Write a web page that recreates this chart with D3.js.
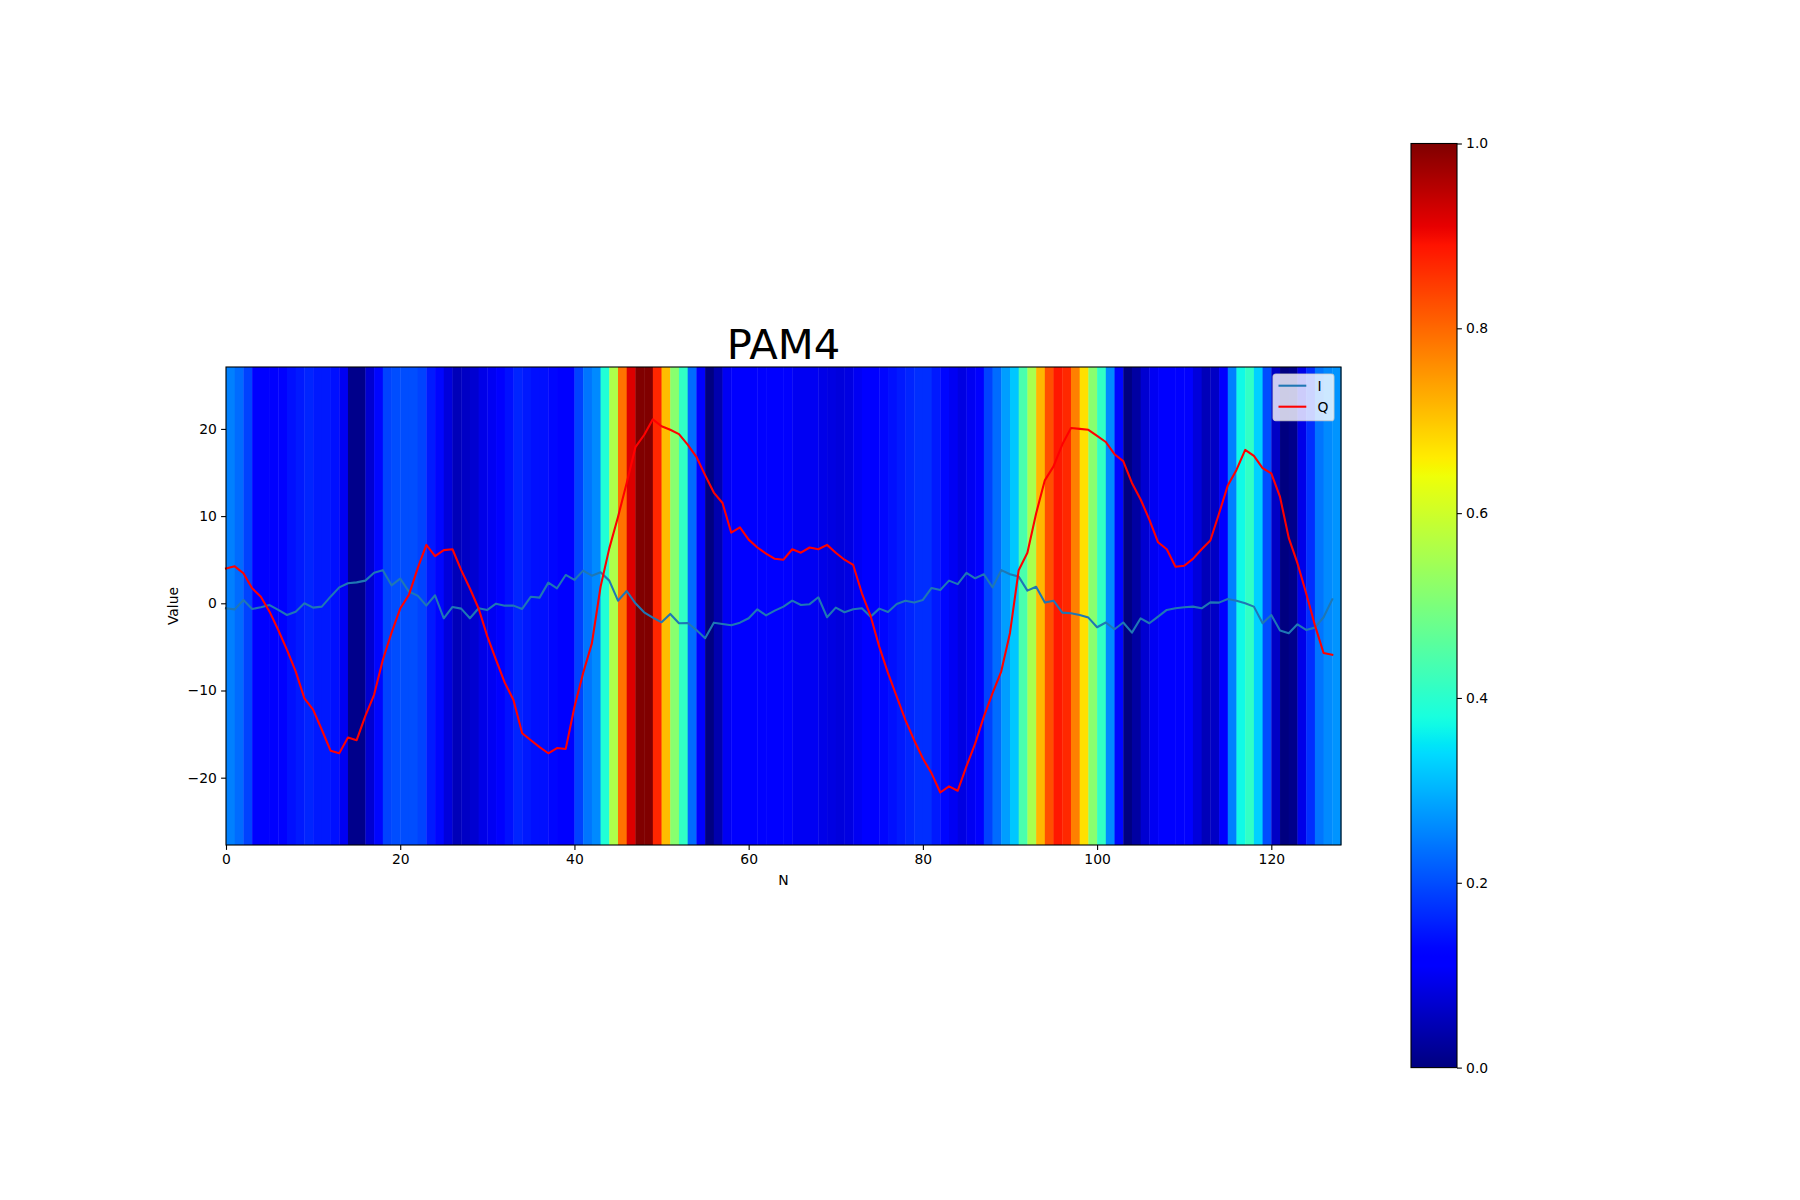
<!DOCTYPE html>
<html>
<head>
<meta charset="utf-8">
<script src="https://cdn.jsdelivr.net/npm/d3@7"></script>
<style>
  body { margin: 0; background: #fff; }
  text { font-family: "DejaVu Sans", sans-serif; fill: #000; }
</style>
</head>
<body>
<div id="chart"></div>
<script>
// heatmap column values (0..1, jet colormap), one per sample
var heat = [0.25,0.23,0.19,0.12,0.12,0.12,0.12,0.14,0.15,0.16,0.15,0.15,0.14,0.10,0.01,0.01,
  0.07,0.13,0.19,0.20,0.20,0.20,0.19,0.15,0.13,0.08,0.05,0.06,0.07,0.09,0.10,0.11,
  0.14,0.16,0.15,0.14,0.14,0.13,0.12,0.12,0.19,0.24,0.26,0.39,0.56,0.79,0.92,1.0,
  1.0,0.87,0.71,0.515,0.41,0.23,0.12,0.0,0.04,0.10,0.115,0.12,0.12,0.12,0.115,0.11,
  0.11,0.10,0.10,0.10,0.09,0.085,0.08,0.085,0.10,0.115,0.12,0.13,0.14,0.15,0.16,0.17,
  0.17,0.15,0.13,0.10,0.085,0.10,0.12,0.19,0.23,0.28,0.32,0.44,0.555,0.716,0.826,0.885,
  0.868,0.775,0.673,0.515,0.41,0.26,0.13,0.0,0.03,0.07,0.10,0.12,0.12,0.12,0.12,0.08,
  0.05,0.06,0.12,0.25,0.37,0.41,0.33,0.20,0.06,0.0,0.01,0.09,0.17,0.24,0.26,0.27];

// I channel
var iVals = [-0.57,-0.7,0.38,-0.65,-0.46,-0.2,-0.76,-1.34,-0.96,0,-0.5,-0.38,0.76,1.83,2.3,2.4,
  2.6,3.5,3.8,2.06,2.83,1.34,0.88,-0.27,0.92,-1.72,-0.42,-0.61,-1.72,-0.57,-0.76,-0.04,
  -0.27,-0.27,-0.65,0.76,0.65,2.37,1.72,3.25,2.68,3.75,3.17,3.55,2.6,0.3,1.41,0,
  -1.03,-1.64,-2.18,-1.22,-2.29,-2.26,-3.06,-4.0,-2.22,-2.37,-2.52,-2.22,-1.72,-0.69,-1.38,-0.84,
  -0.38,0.3,-0.2,-0.1,0.69,-1.6,-0.5,-1.03,-0.69,-0.57,-1.53,-0.61,-1.0,-0.08,0.3,0.08,
  0.38,1.76,1.53,2.6,2.2,3.5,2.87,3.33,1.83,3.8,3.33,3.06,1.45,1.9,0.08,0.3,
  -1.07,-1.15,-1.34,-1.64,-2.75,-2.2,-2.98,-2.2,-3.36,-1.72,-2.29,-1.53,-0.76,-0.57,-0.46,-0.38,
  -0.57,0.11,0.08,0.5,0.3,0,-0.38,-2.29,-1.34,-3.13,-3.44,-2.41,-3.06,-2.79,-1.6,0.46];

// Q channel
var qVals = [4.0,4.24,3.44,1.72,0.76,-0.96,-3.06,-5.35,-7.8,-10.9,-12.2,-14.5,-16.9,-17.2,-15.4,-15.7,
  -12.9,-10.5,-6.5,-3.4,-0.6,0.96,4.0,6.7,5.4,6.1,6.2,3.8,1.7,-0.6,-3.8,-6.5,
  -9.1,-11.1,-14.9,-15.7,-16.5,-17.2,-16.6,-16.7,-11.9,-8.0,-4.6,1.9,6.3,9.9,13.8,17.9,
  19.3,21.1,20.3,19.9,19.4,18.2,16.8,14.7,12.7,11.5,8.1,8.7,7.3,6.4,5.7,5.1,
  5.0,6.2,5.8,6.4,6.2,6.7,5.8,5.0,4.4,1.15,-1.45,-5.0,-8.0,-10.7,-13.4,-15.7,
  -17.8,-19.5,-21.7,-21.0,-21.5,-18.7,-16.1,-13.0,-10.3,-7.8,-3.4,3.8,5.8,10.3,14.1,15.7,
  18.2,20.1,20.0,19.9,19.2,18.5,17.1,16.3,13.8,11.9,9.6,7.0,6.2,4.2,4.3,5.1,
  6.2,7.2,10.3,13.5,15.3,17.6,16.9,15.5,14.9,12.2,7.5,4.6,1.15,-2.5,-5.7,-5.9];

var xTicks = [0, 20, 40, 60, 80, 100, 120];
var yTicks = [-20, -10, 0, 10, 20];
var cbTicks = [0, 0.2, 0.4, 0.6, 0.8, 1.0];
var series = [{name: "I", color: "#1f77b4", values: iVals},
              {name: "Q", color: "#ff0000", values: qVals}];

(function(){

  var W = 1800, H = 1200;
  var plot = {left: 226, right: 1341, top: 367, bottom: 845};
  var cb = {left: 1411, right: 1457, top: 143.5, bottom: 1067.6};

  var svg = d3.select("#chart").append("svg")
    .attr("width", W).attr("height", H);

  // jet colormap, piecewise linear per channel (matplotlib segment data)
  var red = d3.scaleLinear().domain([0, 0.35, 0.66, 0.89, 1]).range([0, 0, 1, 1, 0.5]).clamp(true);
  var green = d3.scaleLinear().domain([0, 0.125, 0.375, 0.64, 0.91, 1]).range([0, 0, 1, 1, 0, 0]).clamp(true);
  var blue = d3.scaleLinear().domain([0, 0.11, 0.34, 0.65, 1]).range([0.5, 1, 1, 0, 0]).clamp(true);
  function jet(v) {
    return d3.rgb(red(v) * 255, green(v) * 255, blue(v) * 255).formatHex();
  }

  var x = d3.scaleLinear().domain([0, 128]).range([plot.left, plot.right]);
  var y = d3.scaleLinear().domain([-27.72, 27.1]).range([plot.bottom, plot.top]);

  // heatmap columns behind the lines
  svg.append("g").selectAll("rect")
    .data(heat)
    .enter().append("rect")
    .attr("x", function(d, i) { return x(i); })
    .attr("width", function(d, i) { return x(i + 1) - x(i) + 0.4; })
    .attr("y", plot.top)
    .attr("height", plot.bottom - plot.top)
    .attr("fill", function(d) { return jet(d); });

  var line = d3.line()
    .x(function(d, i) { return x(i); })
    .y(function(d) { return y(d); });

  svg.append("g").selectAll("path")
    .data(series)
    .enter().append("path")
    .attr("d", function(d) { return line(d.values); })
    .attr("fill", "none")
    .attr("stroke", function(d) { return d.color; })
    .attr("stroke-width", 2.08)
    .attr("stroke-linejoin", "round")
    .attr("stroke-linecap", "square");

  // axes
  var xAxis = d3.axisBottom(x).tickValues(xTicks).tickSize(4.9).tickPadding(4.2)
    .tickFormat(d3.format("d"));
  var yAxis = d3.axisLeft(y).tickValues(yTicks).tickSize(4.9).tickPadding(4.2)
    .tickFormat(function(d) { return d < 0 ? "\u2212" + Math.abs(d) : d; });

  var gx = svg.append("g").attr("transform", "translate(0," + plot.bottom + ")").call(xAxis);
  var gy = svg.append("g").attr("transform", "translate(" + plot.left + ",0)").call(yAxis);
  [gx, gy].forEach(function(g) {
    g.select(".domain").remove();
    g.selectAll("line").attr("stroke", "#000").attr("stroke-width", 1.1);
    g.selectAll("text").attr("font-size", 13.9).attr("font-family", "DejaVu Sans").attr("fill", "#000");
  });

  // frame
  svg.append("rect")
    .attr("x", plot.left).attr("y", plot.top)
    .attr("width", plot.right - plot.left).attr("height", plot.bottom - plot.top)
    .attr("fill", "none").attr("stroke", "#000").attr("stroke-width", 1.1);

  // labels
  svg.append("text")
    .attr("x", (plot.left + plot.right) / 2).attr("y", 358.7)
    .attr("text-anchor", "middle").attr("font-size", 41.7)
    .text("PAM4");
  svg.append("text")
    .attr("x", (plot.left + plot.right) / 2).attr("y", 884.5)
    .attr("text-anchor", "middle").attr("font-size", 13.9)
    .text("N");
  svg.append("text")
    .attr("transform", "translate(178," + (plot.top + plot.bottom) / 2 + ") rotate(-90)")
    .attr("text-anchor", "middle").attr("font-size", 13.9)
    .text("Value");

  // legend
  var lg = svg.append("g").attr("transform", "translate(1273,374)");
  lg.append("rect")
    .attr("width", 61).attr("height", 46.7).attr("rx", 2.8)
    .attr("fill", "#fff").attr("fill-opacity", 0.8)
    .attr("stroke", "#ccc").attr("stroke-opacity", 0.8).attr("stroke-width", 1.1);
  series.forEach(function(s, k) {
    var cy = 11.7 + k * 21;
    lg.append("line")
      .attr("x1", 5.5).attr("x2", 33.3).attr("y1", cy).attr("y2", cy)
      .attr("stroke", s.color).attr("stroke-width", 2.08);
    lg.append("text")
      .attr("x", 44.5).attr("y", cy + 5)
      .attr("font-size", 13.9)
      .text(s.name);
  });

  // colorbar
  var grad = svg.append("defs").append("linearGradient")
    .attr("id", "jetgrad").attr("x1", 0).attr("y1", 1).attr("x2", 0).attr("y2", 0);
  grad.selectAll("stop")
    .data(d3.range(0, 1.0001, 0.01))
    .enter().append("stop")
    .attr("offset", function(d) { return d; })
    .attr("stop-color", function(d) { return jet(d); });

  svg.append("rect")
    .attr("x", cb.left).attr("y", cb.top)
    .attr("width", cb.right - cb.left).attr("height", cb.bottom - cb.top)
    .attr("fill", "url(#jetgrad)")
    .attr("stroke", "#000").attr("stroke-width", 1.1);

  var c = d3.scaleLinear().domain([0, 1]).range([cb.bottom, cb.top]);
  var gc = svg.append("g").attr("transform", "translate(" + cb.right + ",0)")
    .call(d3.axisRight(c).tickValues(cbTicks).tickSize(4.9).tickPadding(4.2).tickFormat(d3.format(".1f")));
  gc.select(".domain").remove();
  gc.selectAll("line").attr("stroke", "#000").attr("stroke-width", 1.1);
  gc.selectAll("text").attr("font-size", 13.9).attr("font-family", "DejaVu Sans").attr("fill", "#000");

})()
</script>
</body>
</html>
